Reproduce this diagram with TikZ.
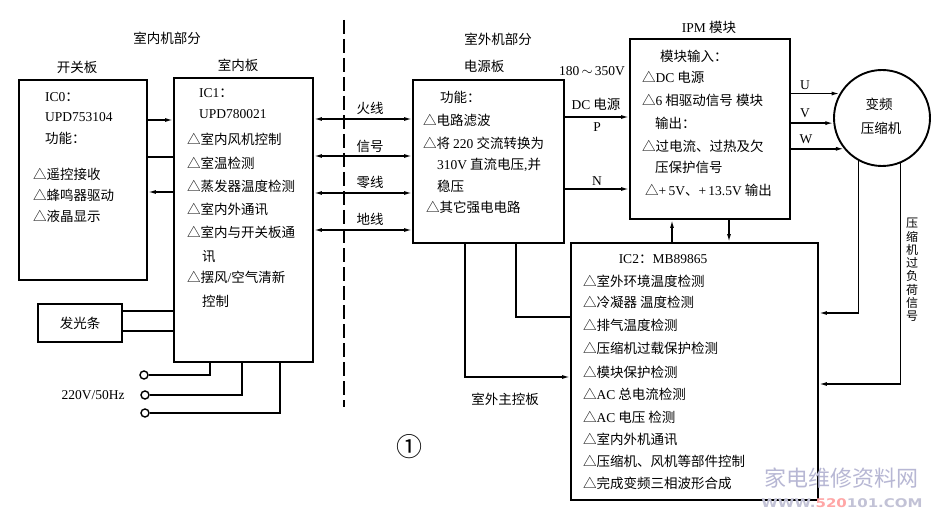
\documentclass[tikz,border=0pt]{standalone}
\usepackage{fontspec}
\setmainfont{Noto Sans CJK SC}
\newfontfamily\latf{Liberation Serif}
\newfontfamily\wmf{DejaVu Sans}
\newcommand\EN[1]{{\latf #1}}
\usetikzlibrary{arrows.meta}
\tikzset{
  box/.style={draw, line width=1.9pt, inner sep=0pt, font=\fontsize{13.5}{16}\selectfont},
  txt/.style={anchor=west, inner sep=0pt, font=\fontsize{13.5}{16}\selectfont},
  ctxt/.style={inner sep=0pt, font=\fontsize{13.5}{16}\selectfont},
  wire/.style={line width=1.4pt},
  arr/.style={wire, -{Latex[length=8pt,width=4pt]}},
  arrs/.style={wire, {Latex[length=8pt,width=4pt]}-{Latex[length=8pt,width=4pt]}},
  term/.style={draw, circle, line width=1.4pt, minimum size=8pt, inner sep=0pt},
}
\begin{document}
\begin{tikzpicture}[x=1pt,y=-1pt]
\useasboundingbox[fill=white] (0,0) rectangle (945,513);

% titles
\node[ctxt] (t-in) at (167,38) {室内机部分};
\node[ctxt] (t-kg) at (77,67) {开关板};
\node[ctxt] (t-sn) at (238,65) {室内板};
\node[ctxt] (t-out) at (498,39) {室外机部分};
\node[ctxt] (t-dy) at (484,66) {电源板};
\node[ctxt] (t-v) at (592,71) {\EN{180\,$\sim$\,350V}};
\node[ctxt] (t-ipm) at (709,27) {\EN{IPM} 模块};

% switch board
\node[box, minimum width=128pt, minimum height=200pt] (kg) at (83,180) {};
\node[txt] (k1) at (45,97) {\EN{IC0}：};
\node[txt] (k2) at (45,117) {\EN{UPD753104}};
\node[txt] (k3) at (45,138) {功能：};
\node[txt] (k4) at (33,174) {△遥控接收};
\node[txt] (k5) at (33,195) {△蜂鸣器驱动};
\node[txt] (k6) at (33,216) {△液晶显示};

% indoor board
\node[box, minimum width=139pt, minimum height=284pt] (sn) at (243.5,220) {};
\node[txt] (s1) at (199,93) {\EN{IC1}：};
\node[txt] (s2) at (199,114) {\EN{UPD780021}};
\node[txt] (s3) at (187,139) {△室内风机控制};
\node[txt] (s4) at (187,163) {△室温检测};
\node[txt] (s5) at (187,186) {△蒸发器温度检测};
\node[txt] (s6) at (187,209) {△室内外通讯};
\node[txt] (s7) at (187,232) {△室内与开关板通};
\node[txt] (s8) at (202,257) {讯};
\node[txt] (s9) at (187,277) {△摆风\EN{/}空气清新};
\node[txt] (s10) at (202,301) {控制};

% light bar
\node[box, minimum width=84pt, minimum height=38pt] (fg) at (80,323) {发光条};

% mains terminals
\node[term] (p1) at (144,375) {};
\node[term] (p2) at (145,395) {};
\node[term] (p3) at (145,413) {};
\node[ctxt] (v220) at (93,395) {\EN{220V/50Hz}};

% connectors switch board <-> indoor board
\draw[arr] (kg.east |- 0,120) -- (sn.west |- 0,120);
\draw[wire] (kg.east |- 0,157) -- (sn.west |- 0,157);
\draw[arr] (sn.west |- 0,192) -- (kg.east |- 0,192);
\draw[wire] (fg.east |- 0,311) -- (sn.west |- 0,311);
\draw[wire] (fg.east |- 0,331) -- (sn.west |- 0,331);
\draw[wire] (p1) -| (sn.south -| 210,0);
\draw[wire] (p2) -| (sn.south -| 242,0);
\draw[wire] (p3) -| (sn.south -| 280,0);

% dashed separator
\coordinate (d1) at (344,20);
\coordinate (d2) at (344,407);
\draw[line width=2.4pt, dash pattern=on 14pt off 5pt] (d1) -- (d2);

% power board
\node[box, minimum width=151pt, minimum height=163pt] (dy) at (488.5,161.5) {};
\node[txt] (e1) at (440,97) {功能：};
\node[txt] (e2) at (423,120) {△电路滤波};
\node[txt] (e3) at (423,143) {△将 \EN{220} 交流转换为};
\node[txt] (e4) at (437,165) {\EN{310V} 直流电压\EN{,}并};
\node[txt] (e5) at (437,186) {稳压};
\node[txt] (e6) at (426,207) {△其它强电电路};

% indoor <-> power board
\draw[arrs] (sn.east |- 0,119) -- (dy.west |- 0,119);
\draw[arrs] (sn.east |- 0,156) -- (dy.west |- 0,156);
\draw[arrs] (sn.east |- 0,193) -- (dy.west |- 0,193);
\draw[arrs] (sn.east |- 0,230) -- (dy.west |- 0,230);
\node[ctxt] (l1) at (370,108) {火线};
\node[ctxt] (l2) at (370,146) {信号};
\node[ctxt] (l3) at (370,182) {零线};
\node[ctxt] (l4) at (370,219) {地线};

% IPM module
\node[box, minimum width=160pt, minimum height=180pt] (ipm) at (710,129) {};
\node[txt] (i1) at (660,56) {模块输入：};
\node[txt] (i2) at (642,77) {△\EN{DC} 电源};
\node[txt] (i3) at (642,100) {△\EN{6} 相驱动信号 模块};
\node[txt] (i4) at (655,123) {输出：};
\node[txt] (i5) at (642,146) {△过电流、过热及欠};
\node[txt] (i6) at (655,167) {压保护信号};
\node[txt] (i7) at (645,190) {△\EN{+\,5V}、\EN{+\,13.5V} 输出};

% power board -> IPM
\draw[arr] (dy.east |- 0,117) -- (ipm.west |- 0,117);
\draw[arr] (dy.east |- 0,189) -- (ipm.west |- 0,189);
\node[ctxt] (dc) at (596,104) {\EN{DC} 电源};
\node[ctxt] (lp) at (597,127) {\EN{P}};
\node[ctxt] (ln) at (597,181) {\EN{N}};

% compressor
\node[draw, circle, line width=1.9pt, minimum size=96pt, inner sep=0pt] (ys) at (882,118) {};
\node[ctxt] (ys1) at (879,104) {变频};
\node[ctxt] (ys2) at (881,128) {压缩机};
\draw[arr] (ipm.east |- ys.150) -- (ys.150);
\draw[arr] (ipm.east |- ys.186) -- (ys.186);
\draw[arr] (ipm.east |- ys.219) -- (ys.219);
\node[ctxt] (lu) at (805,85) {\EN{U}};
\node[ctxt] (lv) at (805,113) {\EN{V}};
\node[ctxt] (lw) at (806,139) {\EN{W}};

% IC2 main control
\node[box, minimum width=247pt, minimum height=257pt] (ic2) at (694.5,371.5) {};
\node[ctxt] (c0) at (663,259) {\EN{IC2}：\EN{MB89865}};
\node[txt] (c1) at (583,281) {△室外环境温度检测};
\node[txt] (c2) at (583,302) {△冷凝器 温度检测};
\node[txt] (c3) at (583,325) {△排气温度检测};
\node[txt] (c4) at (583,348) {△压缩机过载保护检测};
\node[txt] (c5) at (583,372) {△模块保护检测};
\node[txt] (c6) at (583,394) {△\EN{AC} 总电流检测};
\node[txt] (c7) at (583,417) {△\EN{AC} 电压 检测};
\node[txt] (c8) at (583,439) {△室内外机通讯};
\node[txt] (c9) at (583,461) {△压缩机、风机等部件控制};
\node[txt] (c10) at (583,483) {△完成变频三相波形合成};

% IPM <-> IC2
\draw[arr] (ic2.north -| 672,0) -- (ipm.south -| 672,0);
\draw[arr] (ipm.south -| 729,0) -- (ic2.north -| 729,0);

% power board -> IC2
\draw[arr] (dy.south -| 465,0) |- (ic2.west |- 0,377);
\draw[wire] (dy.south -| 516,0) |- (ic2.west |- 0,317);
\node[ctxt] (zk) at (505,399) {室外主控板};

% compressor -> IC2
\draw[arr] (ys.241) |- (ic2.east |- 0,313);
\draw[arr] (ys.292) |- (ic2.east |- 0,384);
\node[inner sep=0pt, align=center, font=\fontsize{12}{13.3}\selectfont] (gfh) at (912,270) {压\\缩\\机\\过\\负\\荷\\信\\号};

% figure number
\node[inner sep=0pt, font=\fontsize{26}{26}\selectfont] (fig) at (409,447) {①};

% watermark
\node[inner sep=0pt, text=blue!25!gray!45, font=\fontsize{22}{22}\selectfont] (wm1) at (841,478) {家电维修资料网};
\node[inner sep=0pt, text=blue!20!gray!40, font=\wmf\bfseries\fontsize{12}{12}\selectfont, xscale=1.25] (wm2) at (842,503) {WWW.\textcolor{red!35}{520}101.COM};
\end{tikzpicture}
\end{document}
